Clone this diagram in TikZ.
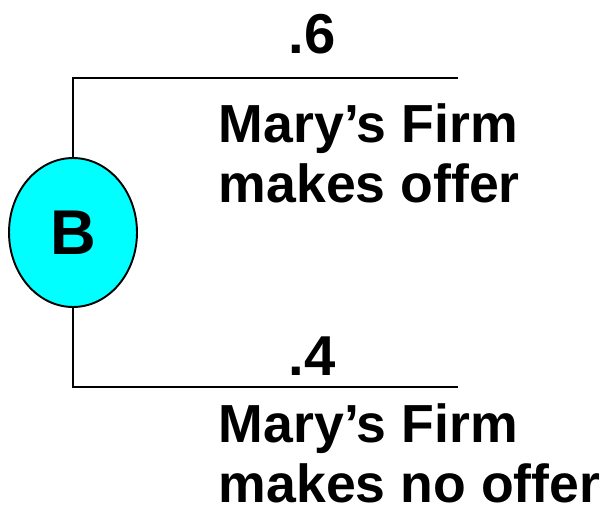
\documentclass[tikz,border=0pt]{standalone}
\usepackage{fontspec}
\setmainfont{Liberation Sans}
\usetikzlibrary{shapes.geometric}
\definecolor{chancecyan}{RGB}{0,255,255}

\begin{document}
\begin{tikzpicture}[x=0.02cm, y=-0.02cm, line width=1.1pt, font=\bfseries\fontsize{30.5}{34}\selectfont]
	\useasboundingbox (0,0) rectangle (604,507);
      \tikzstyle{prob} = [inner sep=0, anchor=base, font=\bfseries\fontsize{32}{36}\selectfont]
      \tikzstyle{outcome} = [inner sep=0, anchor=north west, align=left]
      \node (B) at (73,232.5) [draw, fill=chancecyan, ellipse, inner sep=0, minimum width=2.56cm, minimum height=2.98cm, font=\bfseries\fontsize{36}{40}\selectfont] {B};
      \coordinate (offerend) at (458,78);
      \coordinate (noofferend) at (458,387);
      \draw (B.north) |- (offerend);
      \draw (B.south) |- (noofferend);
      \node (psix) at (312,53) [prob] {.6};
      \node (pfour) at (312,375) [prob] {.4};
      \node (offer) at (218,103) [outcome] {Mary’s Firm\\makes offer};
      \node (nooffer) at (218,403) [outcome] {Mary’s Firm\\makes no offer};
\end{tikzpicture}
\end{document}
